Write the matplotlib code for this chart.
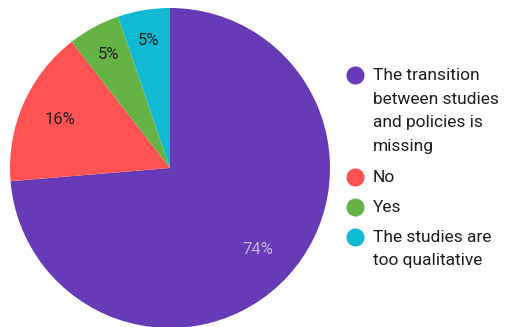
import matplotlib.pyplot as plt
from matplotlib.lines import Line2D

plt.rcParams['font.family'] = ['Roboto', 'DejaVu Sans']

# answers (counts), shown as rounded percentages
labels = ['The transition\nbetween studies\nand policies is\nmissing', 'No', 'Yes',
          'The studies are\ntoo qualitative']
counts = [14, 3, 1, 1]
colors = ['#673AB7', '#FF5252', '#66B345', '#12B9D2']
pct_colors = ['#C3B4E2', '#222222', '#222222', '#222222']

W, H = 513, 327
fig = plt.figure(figsize=(W / 100, H / 100), dpi=100)
ax = fig.add_axes([10 / W, (H - 168 - 160) / H, 320 / W, 320 / H])

wedges, texts, autotexts = ax.pie(counts, colors=colors, startangle=90, counterclock=False,
                                  autopct='%.0f%%', pctdistance=0.75,
                                  wedgeprops=dict(linewidth=0),
                                  textprops=dict(fontsize=12))
for t, c, n in zip(autotexts, pct_colors, counts):
    t.set_color(c)
    if n / sum(counts) < 0.1:
        # small slices: label sits a bit further out
        x, y = t.get_position()
        t.set_position((x * 1.08, y * 1.08))
ax.set_xlim(-1, 1)
ax.set_ylim(-1, 1)
ax.set_aspect('equal')

# legend drawn by hand: circle aligned with the first line of each label
line_h = 24
gap = 6
y = 75
for lab, col in zip(labels, colors):
    fig.add_artist(Line2D([355 / W], [1 - y / H], marker='o', markersize=12,
                          color=col, linestyle='none', transform=fig.transFigure))
    for i, part in enumerate(lab.split('\n')):
        fig.text(373 / W, 1 - (y + i * line_h) / H, part, fontsize=12.5,
                 color='#1E1E1E', va='center', ha='left')
    y += len(lab.split('\n')) * line_h + gap

plt.savefig('out.png', dpi=100)
